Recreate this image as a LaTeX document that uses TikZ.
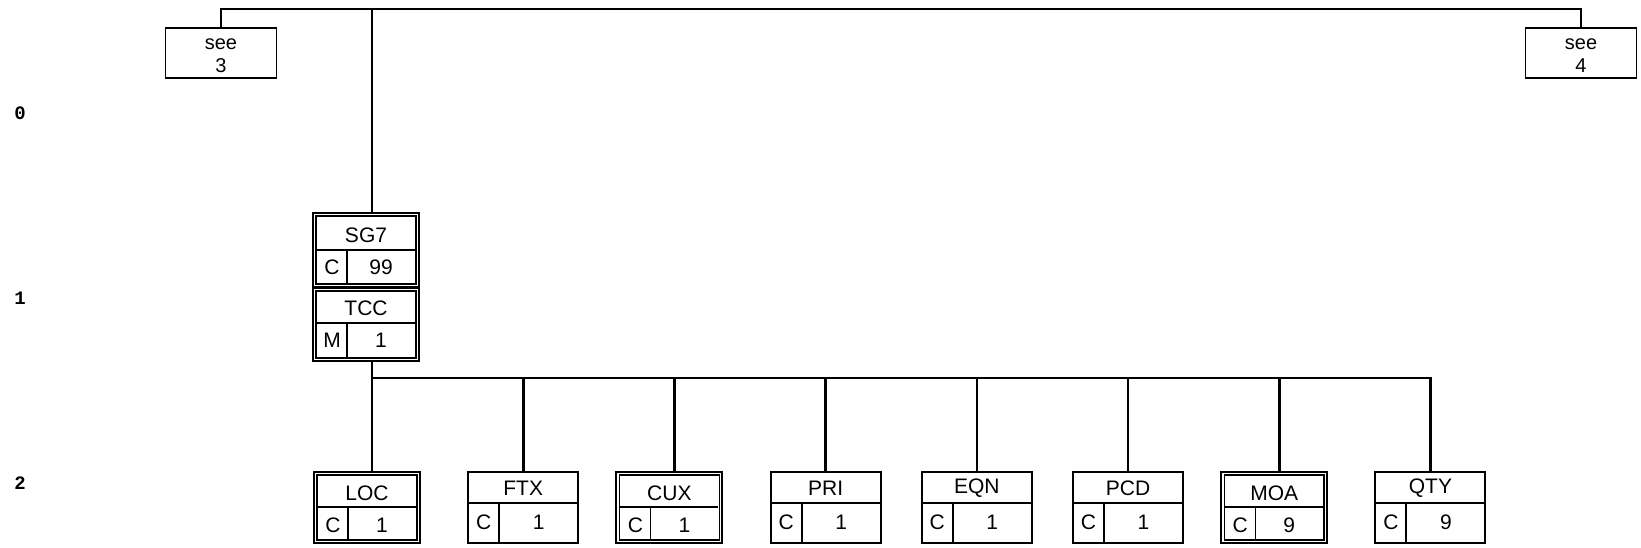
\documentclass[tikz,border=0pt]{standalone}
\usepackage{fontspec}
\setmainfont{Liberation Sans}
\newfontfamily\lvlfont{Liberation Mono}
\usetikzlibrary{calc}
\begin{document}
\begin{tikzpicture}[x=1pt,y=-1pt,
  conn/.style={line width=2.6pt},
  boxline/.style={line width=1.9pt},
  innerline/.style={line width=1.4pt},
  txt/.style={font=\fontsize{21}{24}\selectfont, inner sep=0pt},
  lvl/.style={font=\lvlfont\bfseries\fontsize{19}{21}\selectfont, inner sep=0pt},
  seebox/.style={draw, boxline, minimum width=111pt, minimum height=50pt, inner sep=0pt},
  seetxt/.style={font=\fontsize{20}{23.5}\selectfont, align=center, inner sep=0pt},
  sbox/.style={draw, boxline, minimum width=110pt, minimum height=71pt, inner sep=0pt},
  dbox/.style={draw, boxline, minimum width=106pt, minimum height=71pt, inner sep=0pt}
]
\useasboundingbox (0,0) rectangle (1641,548);

% level labels
\node[lvl] (l0) at (20,113) {0};
\node[lvl] (l1) at (20,298) {1};
\node[lvl] (l2) at (20,483) {2};

% top boxes
\node[seebox] (see3) at (221,53) {};
\node[seebox] (see4) at (1581,53) {};
\node[seetxt] (see3t) at (221,55.5) {see\\3};
\node[seetxt] (see4t) at (1581,55.5) {see\\4};
\coordinate (topj) at (372,9);
\draw[conn] (see3.north) |- (topj) -| (see4.north);

% SG7 group box
\node[draw, boxline, minimum width=106pt, minimum height=74pt, inner sep=0pt] (sg7) at (366,250) {};
\draw[innerline] ($(sg7.north west)+(4,4)$) rectangle ($(sg7.south east)+(-4,-4)$);
\draw[innerline] (317,250) -- (415,250);
\draw[innerline] (347,250) -- (347,283);
\node[txt] (sg7h) at (366,235) {SG7};
\node[txt] (sg7s) at (332,267) {C};
\node[txt] (sg7r) at (381,267) {99};

% TCC segment
\node[draw, boxline, minimum width=106pt, minimum height=73pt, inner sep=0pt] (tcc) at (366,324.5) {};
\draw[innerline] ($(tcc.north west)+(4,4)$) rectangle ($(tcc.south east)+(-4,-4)$);
\draw[innerline] (317,323) -- (415,323);
\draw[innerline] (347,323) -- (347,357);
\node[txt] (tcch) at (366,308.5) {TCC};
\node[txt] (tccs) at (332,340.5) {M};
\node[txt] (tccr) at (381,340.5) {1};

\draw[conn] (topj) -- (topj |- sg7.north);

% level 2 bar
\coordinate (j2) at (372,378);
\draw[conn] (j2 |- tcc.south) -- (j2);

% single boxes
\foreach \nm/\cx/\lab/\st/\rp in {ftx/523.2/FTX/C/1, pri/825.6/PRI/C/1, eqn/976.8/EQN/C/1, pcd/1128/PCD/C/1, qty/1430.4/QTY/C/9}{
  \coordinate (\nm c) at (\cx,472);
  \node[sbox] (\nm) at (\cx,507.5) {};
  \draw[boxline] (\cx-55,503) -- (\cx+55,503);
  \draw[boxline] (\cx-24,503) -- (\cx-24,543);
  \node[txt] (\nm h) at (\cx,488) {\lab};
  \node[txt] (\nm s) at (\cx-39.5,522.5) {\st};
  \node[txt] (\nm r) at (\cx+15.5,522.5) {\rp};
}
% double boxes
\foreach \nm/\cx/\lab/\st/\rp in {loc/372/LOC/C/1, cux/674.4/CUX/C/1, moa/1279.2/MOA/C/9}{
  \coordinate (\nm c) at (\cx,472);
  \node[dbox] (\nm) at (\cx-5,507.5) {};
  \draw[innerline] ($(\nm.north west)+(4,4)$) rectangle ($(\nm.south east)+(-4,-4)$);
  \draw[innerline] (\cx-54,507) -- (\cx+44,507);
  \draw[innerline] (\cx-24,507) -- (\cx-24,539);
  \node[txt] (\nm h) at (\cx-5,493) {\lab};
  \node[txt] (\nm s) at (\cx-39,525.5) {\st};
  \node[txt] (\nm r) at (\cx+10,525.5) {\rp};
}
\draw[conn] (j2) -| (qtyc);
\foreach \nm in {loc,ftx,cux,pri,eqn,pcd,moa,qty}{
  \draw[conn] (\nm c |- j2) -- (\nm c);
}
\end{tikzpicture}
\end{document}
